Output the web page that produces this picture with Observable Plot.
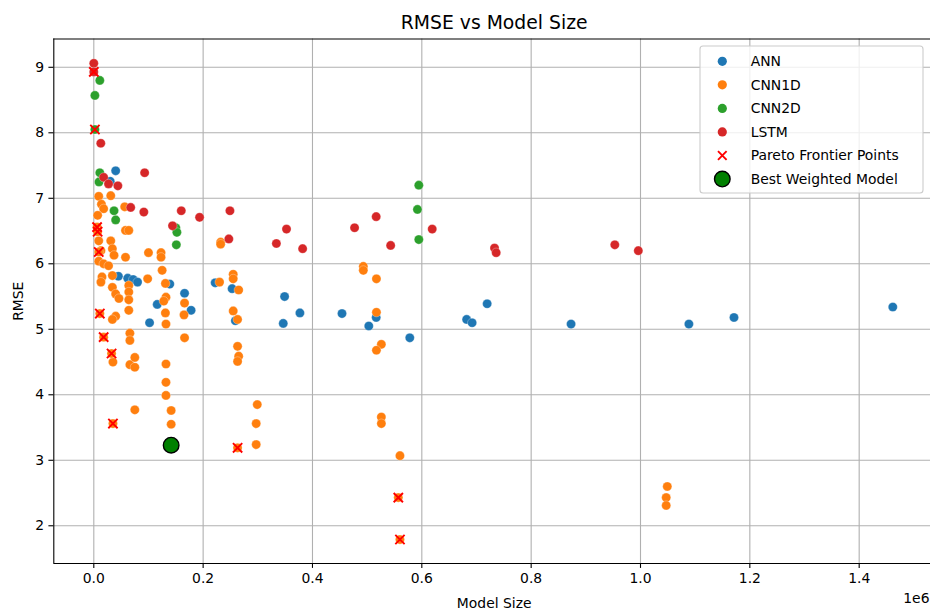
<!DOCTYPE html>
<html>
<head>
<meta charset="utf-8">
<script src="https://cdn.jsdelivr.net/npm/d3@7"></script>
<script src="https://cdn.jsdelivr.net/npm/@observablehq/plot@0.6"></script>
<style>
  html, body { margin: 0; padding: 0; background: #fff; }
  #chart { width: 930px; height: 610px; overflow: hidden; }
</style>
</head>
<body>
<div id="chart"></div>
<script>
// ---------- data ----------
const categories = ["ANN", "CNN1D", "CNN2D", "LSTM"];
const colors = ["#1f77b4", "#ff7f0e", "#2ca02c", "#d62728"];

const annSize = [40000, 30000, 45000, 62000, 72000, 80000, 102000, 116000, 139000, 166000, 178000, 222000, 253000, 259000, 349000, 346500, 377000, 454000, 503000, 516500, 578000, 682000, 692000, 719500, 873000, 1088500, 1171000, 1461500];
const annRmse = [7.42, 7.26, 5.81, 5.78, 5.76, 5.72, 5.10, 5.38, 5.69, 5.55, 5.29, 5.71, 5.62, 5.13, 5.50, 5.09, 5.25, 5.24, 5.05, 5.18, 4.87, 5.15, 5.10, 5.39, 5.08, 5.08, 5.18, 5.34];

const cnn1dSize = [9000, 31000, 14000, 18000, 7000, 56500, 58000, 64000, 9000, 31000, 13000, 34000, 37000, 58000, 100000, 123000, 123000, 9000, 18000, 27000,
  125000, 98500, 15000, 34000, 13000, 34000, 64000, 64000, 64000, 64000, 40000, 46000, 40000, 34000, 66000, 66000, 66000, 75000, 75000, 35000,
  75000, 131000, 132000, 128000, 131000, 132000, 132000, 132000, 132000, 141500, 141500, 166000, 165000, 166000, 230000, 232000, 232000, 255000, 255000, 265000,
  255000, 263000, 263000, 265000, 263000, 299000, 297000, 297000, 493000, 493000, 517000, 517000, 526000, 517000, 526000, 526000, 560000, 1049000, 1047000, 1047000,
  6000, 7000, 9000, 11000, 18000, 32500, 35000, 263000, 557000, 560000, 141500];
const cnn1dRmse = [7.03, 7.04, 6.91, 6.84, 6.74, 6.87, 6.51, 6.51, 6.35, 6.35, 6.20, 6.23, 6.13, 6.10, 6.17, 6.17, 6.10, 6.04, 6.00, 5.97,
  5.90, 5.77, 5.80, 5.82, 5.72, 5.64, 5.67, 5.57, 5.45, 5.29, 5.54, 5.47, 5.20, 5.15, 4.94, 4.83, 4.46, 4.57, 4.42, 4.50,
  3.77, 5.70, 5.49, 5.43, 5.25, 5.08, 4.47, 4.19, 3.99, 3.76, 3.55, 5.40, 5.22, 4.87, 5.72, 6.33, 6.30, 5.84, 5.77, 5.60,
  5.28, 5.15, 4.74, 4.59, 4.51, 3.85, 3.56, 3.24, 5.96, 5.90, 5.77, 5.26, 4.77, 4.68, 3.66, 3.56, 3.07, 2.60, 2.43, 2.31,
  6.56, 6.49, 6.18, 5.24, 4.88, 4.63, 3.56, 3.19, 2.43, 1.79, 3.23];

const cnn2dSize = [11000, 2000, 2000, 11000, 9500, 37000, 40000, 150000, 152000, 151000, 594500, 592000, 594500];
const cnn2dRmse = [8.80, 8.57, 8.05, 7.39, 7.25, 6.81, 6.67, 6.55, 6.48, 6.29, 7.20, 6.83, 6.37];

const lstmSize = [0, 0, 12800, 18000, 27000, 44000, 93000, 67500, 91500, 160000, 193500, 249000, 144000, 247000, 334000, 352500, 382000, 477000, 516500, 543000, 619000, 733000, 736000, 953000, 996000];
const lstmRmse = [9.06, 8.93, 7.84, 7.32, 7.22, 7.19, 7.39, 6.86, 6.79, 6.81, 6.71, 6.81, 6.58, 6.38, 6.31, 6.53, 6.23, 6.55, 6.72, 6.28, 6.53, 6.24, 6.17, 6.29, 6.20];

const paretoSize = [0, 2000, 6000, 7000, 9000, 11000, 18000, 32500, 35000, 263000, 557000, 560000];
const paretoRmse = [8.93, 8.05, 6.56, 6.49, 6.18, 5.24, 4.88, 4.63, 3.56, 3.19, 2.43, 1.79];

const bestSize = [141500];
const bestRmse = [3.23];

const xTicks = [0, 200000, 400000, 600000, 800000, 1000000, 1200000, 1400000];
const yTicks = [2, 3, 4, 5, 6, 7, 8, 9];
const xDomain = [-73170, 1530460];
const yDomain = [1.424, 9.432];

const titleText = "RMSE vs Model Size";
const xLabel = "Model Size";
const yLabel = "RMSE";
const xOffsetLabel = "1e6";
const legendLabels = ["ANN", "CNN1D", "CNN2D", "LSTM", "Pareto Frontier Points", "Best Weighted Model"];

// ---------- tidy table ----------
const sizes = [annSize, cnn1dSize, cnn2dSize, lstmSize];
const rmses = [annRmse, cnn1dRmse, cnn2dRmse, lstmRmse];
const points = [];
categories.forEach((c, i) => sizes[i].forEach((s, j) => points.push({cat: c, size: s, rmse: rmses[i][j]})));
const pareto = paretoSize.map((s, i) => ({size: s, rmse: paretoRmse[i]}));
const best = bestSize.map((s, i) => ({size: s, rmse: bestRmse[i]}));

const font = "DejaVu Sans";

const chart = Plot.plot({
  width: 930,
  height: 610,
  marginLeft: 53.3,
  marginRight: 0,
  marginTop: 38.5,
  marginBottom: 47,
  style: {fontFamily: font, fontSize: "13.9px", color: "#000", background: "#fff"},
  x: {domain: xDomain, axis: null},
  y: {domain: yDomain, axis: null},
  color: {domain: categories, range: colors},
  marks: [
    Plot.gridX(xTicks, {stroke: "#b0b0b0", strokeOpacity: 1, strokeWidth: 1.1}),
    Plot.gridY(yTicks, {stroke: "#b0b0b0", strokeOpacity: 1, strokeWidth: 1.1}),
    Plot.axisX(xTicks, {tickSize: 4.9, tickPadding: 4.9, strokeWidth: 1.1, tickFormat: d => (d / 1e6).toFixed(1), label: null, fontSize: 13.9}),
    Plot.axisY(yTicks, {tickSize: 4.9, tickPadding: 4.9, strokeWidth: 1.1, tickFormat: d => String(d), label: null, fontSize: 13.9}),
    Plot.ruleX([xDomain[0]], {stroke: "#000", strokeWidth: 1.1}),
    Plot.ruleY([yDomain[0], yDomain[1]], {stroke: "#000", strokeWidth: 1.1}),
    Plot.dot(points, {x: "size", y: "rmse", fill: "cat", r: 4.6, stroke: "white", strokeWidth: 0.5, strokeOpacity: 0.6}),
    Plot.dot(pareto, {x: "size", y: "rmse", symbol: "times", r: 4.3, stroke: "red", strokeWidth: 1.9}),
    Plot.dot(best, {x: "size", y: "rmse", r: 7.8, fill: "green", stroke: "black", strokeWidth: 1.4}),
    Plot.text([titleText], {frameAnchor: "top", lineAnchor: "middle", textAnchor: "middle", dx: 2, dy: -16.5, fontSize: 18.8, fill: "#000"}),
    Plot.text([xLabel], {frameAnchor: "bottom", lineAnchor: "middle", textAnchor: "middle", dx: 2, dy: 40, fontSize: 13.9, fill: "#000"}),
    Plot.text([yLabel], {frameAnchor: "left", lineAnchor: "middle", textAnchor: "middle", dx: -35, rotate: -90, fontSize: 13.9, fill: "#000"}),
    Plot.text([xOffsetLabel], {frameAnchor: "bottom-right", lineAnchor: "middle", textAnchor: "end", dx: -1, dy: 35, fontSize: 13.9, fill: "#000"})
  ]
});

document.getElementById("chart").appendChild(chart);

// ---------- legend ----------
const svg = d3.select(chart);
const lg = svg.append("g").attr("font-family", font).attr("font-size", "13.9px").attr("text-anchor", "start");
lg.append("rect")
  .attr("x", 700).attr("y", 46).attr("width", 223).attr("height", 147).attr("rx", 3)
  .attr("fill", "white").attr("fill-opacity", 0.8).attr("stroke", "#cccccc").attr("stroke-width", 1.1);
const rowY = i => 61.3 + i * 23.55;
const mx = 722.3;
legendLabels.forEach((label, i) => {
  const y = rowY(i);
  if (i < 4) {
    lg.append("circle").attr("cx", mx).attr("cy", y).attr("r", 4.6).attr("fill", colors[i]);
  } else if (i === 4) {
    const a = 4.3;
    lg.append("path").attr("d", `M${mx - a},${y - a}L${mx + a},${y + a}M${mx - a},${y + a}L${mx + a},${y - a}`)
      .attr("stroke", "red").attr("stroke-width", 1.9).attr("fill", "none");
  } else {
    lg.append("circle").attr("cx", mx).attr("cy", y).attr("r", 7.8).attr("fill", "green").attr("stroke", "black").attr("stroke-width", 1.4);
  }
  lg.append("text").attr("x", 750.7).attr("y", y).attr("dy", "0.35em").attr("text-anchor", "start").attr("fill", "#000").text(label);
});
</script>
</body>
</html>
